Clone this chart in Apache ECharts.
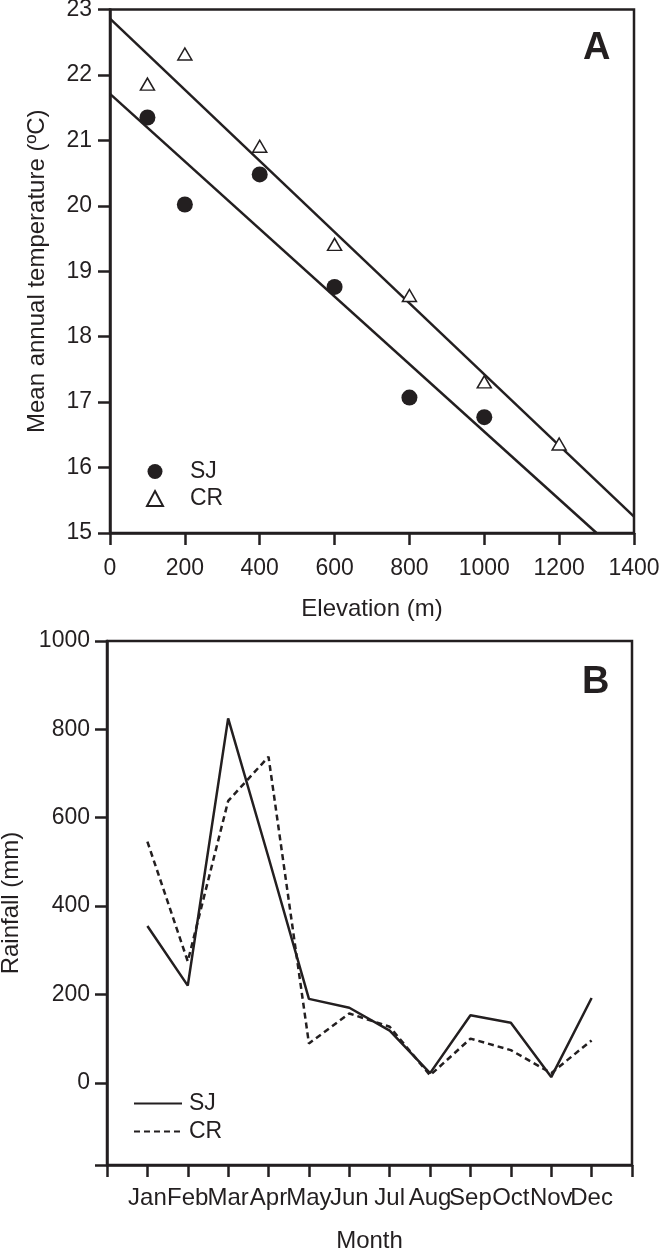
<!DOCTYPE html>
<html>
<head>
<meta charset="utf-8">
<style>
html,body{margin:0;padding:0;background:#fff;}
#c{width:661px;height:1249px;}
</style>
<script src="https://cdn.jsdelivr.net/npm/echarts@6/dist/echarts.min.js"></script>
</head>
<body>
<div id="c"></div>
<script>
// ---- Panel A data ----
var elevSJ = [100, 200, 400, 600, 800, 1000];
var tempSJ = [21.35, 20.02, 20.48, 18.76, 17.07, 16.77];
var elevCR = [100, 200, 400, 600, 800, 1000, 1200];
var tempCR = [21.86, 22.32, 20.91, 19.41, 18.63, 17.31, 16.36];
// regression line end points
var fitSJ = [[0, 21.71], [1300, 15.0]];
var fitCR = [[0, 22.86], [1400, 15.25]];

// ---- Panel B data ----
var months = ['Jan','Feb','Mar','Apr','May','Jun','Jul','Aug','Sep','Oct','Nov','Dec'];
var rainSJ = [355, 220, 825, 510, 190, 170, 118, 22, 153, 136, 13, 192];
var rainCR = [546, 275, 638, 738, 89, 157, 127, 17, 100, 74, 22, 96];
var rainTicks = [0, 200, 400, 600, 800, 1000];

var INK = '#231f20';
var FONT = 'Liberation Sans, Arial, sans-serif';

function pairs(xs, ys){ return xs.map(function(x,i){ return [x, ys[i]]; }); }
function monthPairs(ys){ return ys.map(function(v,i){ return [i+1, v]; }); }
function plain(v){ return String(v); }

var axisLine = {show:true, onZero:false, lineStyle:{color:INK, width:2.5}};
var axisTick = {show:true, inside:false, length:12, lineStyle:{color:INK, width:2.5}};
var labelStyle = {color:INK, fontFamily:FONT, fontSize:23};
var nameStyle = {color:INK, fontFamily:FONT, fontSize:24};

var chart = echarts.init(document.getElementById('c'), null, {renderer:'canvas'});
chart.setOption({
  animation:false,
  backgroundColor:'#fff',
  title:[
    {text:'A', left:583, top:30, padding:0, textStyle:{fontFamily:FONT, fontSize:38, fontWeight:'bold', color:INK}},
    {text:'B', left:582, top:664, padding:0, textStyle:{fontFamily:FONT, fontSize:38, fontWeight:'bold', color:INK}}
  ],
  grid:[
    {left:110, top:9.5, width:524, height:523.5, show:true, borderColor:INK, borderWidth:2.5, backgroundColor:'transparent',
      containLabel:false, outerBoundsMode:'none'},
    {left:107, top:641, width:525, height:524, show:true, borderColor:INK, borderWidth:2.5, backgroundColor:'transparent',
      containLabel:false, outerBoundsMode:'none'}
  ],
  legend:[
    {
      data:['SJ','CR'], orient:'vertical', left:146, top:460, itemGap:4, padding:0,
      itemWidth:16, itemHeight:15,
      textStyle:{color:INK, fontFamily:FONT, fontSize:23, padding:[0,0,0,22]},
      selectedMode:false
    },
    {
      data:['SJ ','CR '], orient:'vertical', left:133, top:1092, itemGap:5, padding:0,
      itemWidth:48, itemHeight:16,
      itemStyle:{opacity:0},
      formatter:function(n){ return n.trim(); },
      textStyle:{color:INK, fontFamily:FONT, fontSize:23, padding:[0,0,0,2]},
      selectedMode:false
    }
  ],
  xAxis:[
    {
      type:'value', gridIndex:0, min:0, max:1400, interval:200,
      name:'Elevation (m)', nameLocation:'middle', nameGap:64, nameTextStyle:nameStyle,
      axisLine:axisLine, axisTick:axisTick, splitLine:{show:false},
      axisLabel:Object.assign({margin:24, formatter:plain}, labelStyle)
    },
    {
      type:'value', gridIndex:1, min:0, max:13, interval:1,
      name:'Month', nameLocation:'middle', nameGap:64, nameTextStyle:nameStyle,
      axisLine:axisLine, axisTick:axisTick, splitLine:{show:false},
      axisLabel:Object.assign({margin:21, hideOverlap:false, formatter:function(v){ return months[v-1] || ''; }}, labelStyle, {fontSize:24})
    }
  ],
  yAxis:[
    {
      type:'value', gridIndex:0, min:15, max:23, interval:1,
      name:'Mean annual temperature (ºC)', nameLocation:'middle', nameGap:61, nameTextStyle:nameStyle,
      axisLine:axisLine, axisTick:axisTick, splitLine:{show:false},
      axisLabel:Object.assign({margin:18, formatter:plain}, labelStyle)
    },
    {
      type:'value', gridIndex:1, min:-186, max:1000,
      name:'Rainfall (mm)', nameLocation:'middle', nameGap:84, nameTextStyle:nameStyle,
      axisLine:axisLine,
      axisTick:Object.assign({customValues:[-186].concat(rainTicks)}, axisTick),
      splitLine:{show:false},
      axisLabel:Object.assign({margin:17, customValues:rainTicks, formatter:plain}, labelStyle)
    }
  ],
  series:[
    {name:'fitSJ', type:'line', xAxisIndex:0, yAxisIndex:0, data:fitSJ, symbol:'none', lineStyle:{color:INK, width:2.5}, z:1},
    {name:'fitCR', type:'line', xAxisIndex:0, yAxisIndex:0, data:fitCR, symbol:'none', lineStyle:{color:INK, width:2.5}, z:1},
    {name:'SJ', type:'scatter', xAxisIndex:0, yAxisIndex:0, data:pairs(elevSJ, tempSJ), symbol:'circle', symbolSize:16,
      itemStyle:{color:INK, opacity:1}, z:3},
    {name:'CR', type:'scatter', xAxisIndex:0, yAxisIndex:0, data:pairs(elevCR, tempCR), symbol:'triangle', symbolSize:[14,12],
      itemStyle:{color:'#fff', borderColor:INK, borderWidth:1.5, opacity:1}, z:3},
    {name:'SJ ', type:'line', xAxisIndex:1, yAxisIndex:1, data:monthPairs(rainSJ), symbol:'none',
      lineStyle:{color:INK, width:2.5, type:'solid'}, itemStyle:{color:INK}},
    {name:'CR ', type:'line', xAxisIndex:1, yAxisIndex:1, data:monthPairs(rainCR), symbol:'none',
      lineStyle:{color:INK, width:2.5, type:[6,4]}, itemStyle:{color:INK}}
  ]
});
</script>
</body>
</html>
